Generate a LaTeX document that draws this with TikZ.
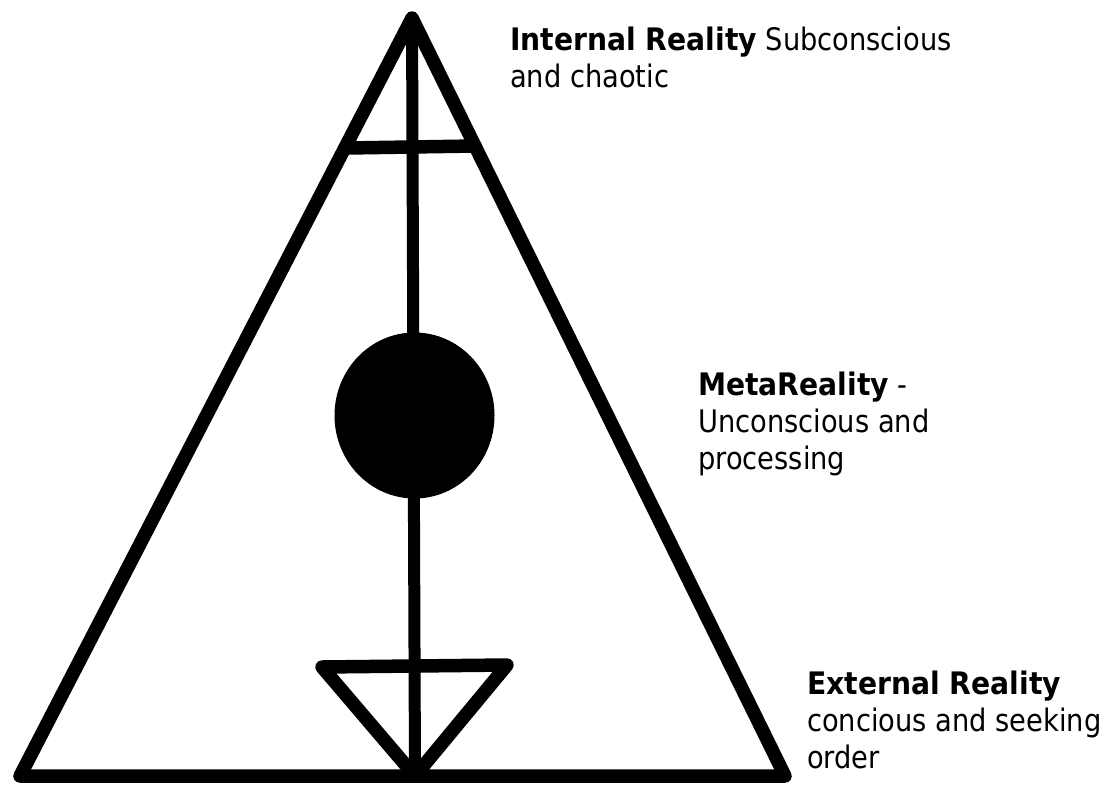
\documentclass[tikz,border=0pt]{standalone}
\usepackage{fontspec}
\setmainfont{DejaVu Sans}[FakeStretch=0.88, BoldFeatures={FakeStretch=0.91}]
\usetikzlibrary{shapes.geometric}
\begin{document}
\begin{tikzpicture}[x=1pt,y=-1pt,
  thick line/.style={line width=13.5pt, line join=round, line cap=round},
  stem line/.style={line width=12pt, line cap=round},
  label text/.style={anchor=base west, inner sep=0pt, font=\fontsize{31}{37}\selectfont}]
\useasboundingbox (0,0) rectangle (1108,785);
\fill[white] (0,0) rectangle (1108,785);
% key points
\coordinate (apex) at (412,18);
\coordinate (bl) at (20,776);
\coordinate (br) at (785,776);
\coordinate (foot) at (415,776);
\coordinate (barL) at (347,148);
\coordinate (barR) at (475,146);
\coordinate (smallL) at (322,667);
\coordinate (smallR) at (507,665);
% big triangle
\draw[thick line] (apex) -- (bl) -- (br) -- cycle;
% vertical stem
\draw[stem line] (apex) -- (foot);
% crossbar near apex
\draw[thick line] (barL) -- (barR);
% small inverted triangle
\draw[thick line] (smallL) -- (smallR) -- (foot) -- cycle;
% central disc
\node[fill=black, ellipse, minimum width=160pt, minimum height=166pt, inner sep=0pt] (disc) at (414.5,415.5) {};
% labels
\node[label text] (internal) at (510,50) {\begin{tabular}[t]{@{}l@{}}\textbf{Internal Reality} Subconscious\\ and chaotic\end{tabular}};
\node[label text] (meta) at (698,395) {\begin{tabular}[t]{@{}l@{}}\textbf{MetaReality} -\\ Unconscious and\\ processing\end{tabular}};
\node[label text] (external) at (807,694) {\begin{tabular}[t]{@{}l@{}}\textbf{External Reality}\\ concious and seeking\\ order\end{tabular}};
\end{tikzpicture}
\end{document}
